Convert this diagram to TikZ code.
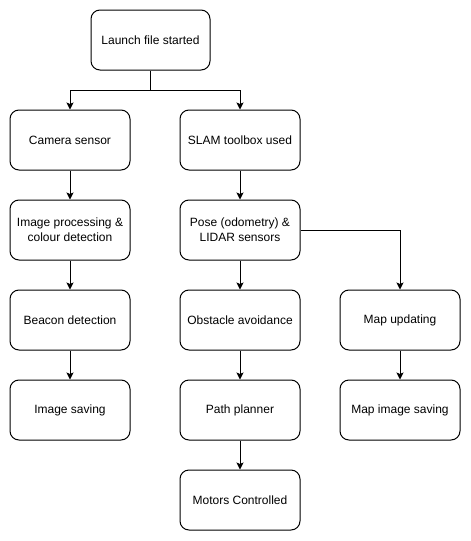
\documentclass[tikz,border=0pt]{standalone}
\usepackage{fontspec}
\setmainfont{Liberation Sans}
\usetikzlibrary{arrows.meta, positioning}
\tikzset{
  stepbox/.style = {rectangle, rounded corners=9pt, draw=black, fill=white,
                    line width=1pt, align=center, font=\fontsize{12}{15}\selectfont,
                    minimum width=120pt, minimum height=60pt, inner sep=2pt},
  flow/.style    = {-{Stealth[length=7pt, width=7pt, inset=1.5pt]}, line width=1pt},
}
\begin{document}
\begin{tikzpicture}[x=1pt, y=-1pt]
  \useasboundingbox (0,0) rectangle (471,541);
  \node[stepbox, minimum width=119pt] (launch) at (150.5,40) {Launch file started};
  \node[stepbox] (cam)  at (70,140)  {Camera sensor};
  \node[stepbox] (slam) at (240,140) {SLAM toolbox used};
  \node[stepbox] (imgp) at (70,230)  {Image processing \&\\colour detection};
  \node[stepbox] (pose) at (240,230) {Pose (odometry) \&\\LIDAR sensors};
  \node[stepbox] (beac) at (70,320)  {Beacon detection};
  \node[stepbox] (obst) at (240,320) {Obstacle avoidance};
  \node[stepbox] (mupd) at (400,320) {Map updating};
  \node[stepbox] (isav) at (70,410)  {Image saving};
  \node[stepbox] (path) at (240,410) {Path planner};
  \node[stepbox] (msav) at (400,410) {Map image saving};
  \node[stepbox] (motr) at (240,500) {Motors Controlled};
  \coordinate (split) at (150.5,90);
  \draw[flow] (launch) -- (split) -| (cam);
  \draw[flow] (split) -| (slam);
  \draw[flow] (pose.east) -| (mupd);
  \foreach \a/\b in {cam/imgp,imgp/beac,beac/isav,slam/pose,pose/obst,obst/path,path/motr,mupd/msav}{\draw[flow] (\a) -- (\b);}
\end{tikzpicture}
\end{document}
